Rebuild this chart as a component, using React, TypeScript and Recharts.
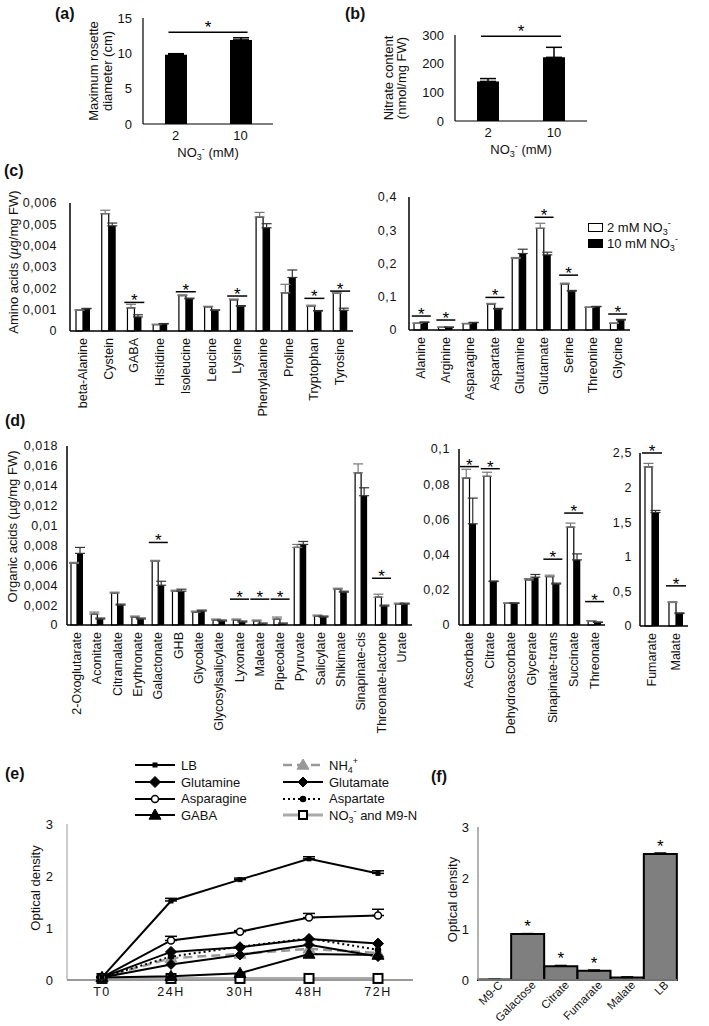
import React from 'react';
import {
  BarChart, Bar, ComposedChart, LineChart, Line, Scatter, XAxis, YAxis,
  ErrorBar, ReferenceLine, LabelList, Legend, Label,
} from 'recharts';

const FONT = '"Liberation Sans", Arial, Helvetica, sans-serif';

// (a) rosette diameter and (b) nitrate content, by NO3- supply (mM)
const doses = ['2', '10'];
const rosetteDiameter = [9.8, 11.9];
const rosetteErr = [0.15, 0.3];
const nitrateContent = [138, 222];
const nitrateErr = [10, 35];

// (c) amino acids, minor ones
const aminoMinor = ['beta-Alanine', 'Cystein', 'GABA', 'Histidine', 'Isoleucine', 'Leucine', 'Lysine', 'Phenylalanine', 'Proline', 'Tryptophan', 'Tyrosine'];
const aminoMinor2mM = [0.00097, 0.0055, 0.00108, 0.0003, 0.00166, 0.00113, 0.00146, 0.00534, 0.00179, 0.00116, 0.00176];
const aminoMinor10mM = [0.00104, 0.00493, 0.00066, 0.00033, 0.00151, 0.00097, 0.00116, 0.00484, 0.00251, 0.00094, 0.00097];
const aminoMinor2mMErr = [0.00003, 0.00016, 0.00017, 0.00002, 0.00004, 0.00003, 0.00004, 0.00022, 0.0004, 0.00005, 0.00006];
const aminoMinor10mMErr = [0.00002, 0.00013, 0.0001, 0.00002, 0.00003, 0.00002, 0.00003, 0.00019, 0.00035, 0.00002, 0.0001];
const aminoMinorSig = [null, null, 0.00134, null, 0.00184, null, 0.00164, null, null, 0.00153, 0.00187];

// (c) amino acids, major ones
const aminoMajor = ['Alanine', 'Arginine', 'Asparagine', 'Aspartate', 'Glutamine', 'Glutamate', 'Serine', 'Threonine', 'Glycine'];
const aminoMajor2mM = [0.02, 0.008, 0.019, 0.078, 0.215, 0.306, 0.138, 0.068, 0.02];
const aminoMajor10mM = [0.023, 0.008, 0.022, 0.063, 0.23, 0.226, 0.117, 0.07, 0.03];
const aminoMajor2mMErr = [0.001, 0.001, 0.001, 0.002, 0.003, 0.015, 0.003, 0.001, 0.001];
const aminoMajor10mMErr = [0.001, 0.001, 0.001, 0.002, 0.013, 0.008, 0.002, 0.001, 0.002];
const aminoMajorSig = [0.042, 0.03, null, 0.098, null, 0.339, 0.165, null, 0.048];

// (d) organic acids, three scales
const organicMinor = ['2-Oxoglutarate', 'Aconitate', 'Citramalate', 'Erythronate', 'Galactonate', 'GHB', 'Glycolate', 'Glycosylsalicylate', 'Lyxonate', 'Maleate', 'Pipecolate', 'Pyruvate', 'Salicylate', 'Shikimate', 'Sinapinate-cis', 'Threonate-lactone', 'Urate'];
const organicMinor2mM = [0.0062, 0.0011, 0.0032, 0.0008, 0.0064, 0.0034, 0.0013, 0.0005, 0.0005, 0.0004, 0.0006, 0.0078, 0.0009, 0.0036, 0.0153, 0.0028, 0.0021];
const organicMinor10mM = [0.0072, 0.0006, 0.002, 0.0006, 0.004, 0.0034, 0.0014, 0.0004, 0.0003, 0.0001, 0.0001, 0.0081, 0.0008, 0.0033, 0.013, 0.0019, 0.0021];
const organicMinor2mMErr = [0.0001, 0.0002, 0.0001, 0.0001, 0.0001, 0.0001, 0.0001, 0.0001, 0.0001, 0.0001, 0.0002, 0.0003, 0.0001, 0.0001, 0.0009, 0.0003, 0.0001];
const organicMinor10mMErr = [0.0006, 0.0001, 0.0001, 0.0001, 0.0004, 0.0002, 0.0001, 0.0001, 0.0001, 0.0001, 0.0001, 0.0003, 0.0001, 0.0001, 0.0008, 0.0001, 0.0001];
const organicMinorSig = [null, null, null, null, 0.0083, null, null, null, 0.0026, 0.0026, 0.0026, null, null, null, null, 0.0047, null];

const organicMid = ['Ascorbate', 'Citrate', 'Dehydroascorbate', 'Glycerate', 'Sinapinate-trans', 'Succinate', 'Threonate'];
const organicMid2mM = [0.0835, 0.0845, 0.0123, 0.0256, 0.0275, 0.0556, 0.0023];
const organicMid10mM = [0.0575, 0.0247, 0.0123, 0.0272, 0.0233, 0.037, 0.0015];
const organicMid2mMErr = [0.005, 0.0023, 0.0003, 0.0008, 0.0008, 0.0023, 0.0002];
const organicMid10mMErr = [0.0146, 0.0003, 0.0003, 0.0015, 0.0005, 0.0034, 0.0002];
const organicMidSig = [0.09, 0.0888, null, null, 0.0374, 0.0636, 0.0133];

const organicMajor = ['Fumarate', 'Malate'];
const organicMajor2mM = [2.3, 0.34];
const organicMajor10mM = [1.64, 0.18];
const organicMajor2mMErr = [0.05, 0.01];
const organicMajor10mMErr = [0.03, 0.01];
const organicMajorSig = [2.5, 0.58];

// (e) bacterial growth on N sources
const times = ['T0', '24H', '30H', '48H', '72H'];
const growthLB = [0.05, 1.52, 1.93, 2.33, 2.05];
const growthLBErr = [0, 0.05, 0.03, 0.04, 0.05];
const growthGlutamine = [0.05, 0.54, 0.63, 0.79, 0.7];
const growthAsparagine = [0.05, 0.76, 0.93, 1.2, 1.24];
const growthAsparagineErr = [0, 0.08, 0.02, 0.08, 0.12];
const growthGABA = [0.05, 0.07, 0.13, 0.5, 0.48];
const growthNH4 = [0.05, 0.42, 0.5, 0.6, 0.52];
const growthGlutamate = [0.05, 0.3, 0.48, 0.68, 0.45];
const growthAspartate = [0.05, 0.45, 0.64, 0.8, 0.58];
const growthNO3 = [0.03, 0.03, 0.03, 0.03, 0.03];

// (f) growth on C sources
const carbonSources = ['M9-C', 'Galactose', 'Citrate', 'Fumarate', 'Malate', 'LB'];
const carbonOD = [0.01, 0.9, 0.27, 0.18, 0.05, 2.47];
const carbonErr = [0, 0.01, 0.015, 0.015, 0.01, 0.02];
const carbonStar = ['', '*', '*', '*', '', '*'];

const doseRows = (v: number[], e: number[]) => doses.map((d, i) => ({ dose: d, value: v[i], err: [0, e[i]] }));
const pairRows = (names: string[], a: number[], b: number[], ea: number[], eb: number[], sig: (number | null)[]) =>
  names.map((name, i) => ({ name, low: a[i], high: b[i], lowErr: [0, ea[i]], highErr: [0, eb[i]], sig: sig[i] }));

const growthRows = times.map((t, i) => ({
  t,
  LB: growthLB[i], LBErr: [0, growthLBErr[i]],
  Glutamine: growthGlutamine[i],
  Asparagine: growthAsparagine[i], AsparagineErr: [0, growthAsparagineErr[i]],
  GABA: growthGABA[i], NH4: growthNH4[i], Glutamate: growthGlutamate[i],
  Aspartate: growthAspartate[i], NO3: growthNO3[i],
}));
const carbonRows = carbonSources.map((name, i) => ({ name, od: carbonOD[i], err: [0, carbonErr[i]], star: carbonStar[i] }));

const comma = (v: number) => (v === 0 ? '0' : String(+v.toPrecision(6)).replace('.', ','));

const Place = ({ x, y, children }: any) => (
  <div style={{ position: 'absolute', left: x, top: y }}>{children}</div>
);

const PanelTag = ({ x, y, children }: any) => (
  <div style={{ position: 'absolute', left: x, top: y, fontWeight: 'bold', fontSize: 16, lineHeight: '16px' }}>{children}</div>
);

const RotTitle = ({ viewBox, x, dy = 0, lines, gap = 14 }: any) => {
  const cy = viewBox.y + viewBox.height / 2 + dy;
  return (
    <text transform={`translate(${viewBox.x + x},${cy}) rotate(-90)`} textAnchor="middle" dominantBaseline="central" fontSize={13} fill="#111">
      {lines.map((l: any, i: number) => (
        <tspan key={i} x={0} dy={i === 0 ? 0 : gap}>{l}</tspan>
      ))}
    </text>
  );
};

const NitrateTitle = ({ viewBox, dy }: any) => (
  <text x={viewBox.x + viewBox.width / 2} y={viewBox.y + dy} textAnchor="middle" fontSize={13} fill="#111">
    NO<tspan fontSize={9} dy={3}>3</tspan><tspan fontSize={9} dy={-8}>-</tspan><tspan dy={5}> (mM)</tspan>
  </text>
);

const VTick = ({ x, y, payload }: any) => (
  <text x={x} y={y + 7} transform={`rotate(-90, ${x}, ${y + 7})`} textAnchor="end" dominantBaseline="central" fontSize={12.5} fill="#111">
    {payload.value}
  </text>
);

const SlantTick = ({ x, y, payload }: any) => (
  <text x={x + 6} y={y + 3} transform={`rotate(-45, ${x + 6}, ${y + 3})`} textAnchor="end" dominantBaseline="central" fontSize={11.5} fill="#111">
    {payload.value}
  </text>
);

const SigMark = ({ cx, cy, half }: any) => {
  if (!Number.isFinite(cx) || !Number.isFinite(cy)) return <g />;
  return (
    <g>
      <line x1={cx - half} x2={cx + half} y1={cy} y2={cy} stroke="#000" strokeWidth={1.5} />
      <text x={cx} y={cy + 4} textAnchor="middle" fontSize={17} fill="#000">*</text>
    </g>
  );
};

const SpanSig = ({ x1, x2, y1 }: any) => (
  <g>
    <line x1={x1 - 7} x2={x2 + 7} y1={y1} y2={y1} stroke="#000" strokeWidth={1.5} />
    <text x={(x1 + x2) / 2} y={y1 + 1} textAnchor="middle" fontSize={17} fill="#000">*</text>
  </g>
);

const axisBlack = { stroke: '#000', strokeWidth: 1.5 };
const yTickStyle = { fontSize: 12.5, fill: '#111', letterSpacing: 0.6 };

const DoseChart = ({ data, width, margin, yWidth, domain, ticks, tickMargin, title, titleX, titleGap, sigY }: any) => (
  <BarChart width={width} height={165} data={data} margin={margin} barSize={22}>
    <XAxis dataKey="dose" tickLine={false} tickSize={0} tickMargin={7} axisLine={{ stroke: '#000', strokeWidth: 1.2 }} tick={{ fontSize: 13, fill: '#111' }} height={30}>
      <Label content={(p: any) => <NitrateTitle viewBox={p.viewBox} dy={33} />} />
    </XAxis>
    <YAxis width={yWidth} domain={domain} ticks={ticks} interval={0} tickLine={false} tickSize={0} tickMargin={tickMargin} axisLine={{ stroke: '#000', strokeWidth: 1.2 }} tick={{ fontSize: 13, fill: '#111' }}>
      <Label content={(p: any) => <RotTitle viewBox={p.viewBox} x={titleX} lines={title} gap={titleGap} />} />
    </YAxis>
    <Bar dataKey="value" fill="#000" isAnimationActive={false}>
      <ErrorBar dataKey="err" width={8} stroke="#000" strokeWidth={1.5} />
    </Bar>
    <ReferenceLine segment={[{ x: '2', y: sigY }, { x: '10', y: sigY }]} ifOverflow="visible" shape={(p: any) => <SpanSig {...p} />} />
  </BarChart>
);

const PairChart = ({ data, width, height, margin, yWidth, domain, ticks, tickMargin, barSize, half, xHeight, title, legend }: any) => (
  <ComposedChart width={width} height={height} data={data} margin={margin} barGap={0} barSize={barSize}>
    <XAxis dataKey="name" interval={0} tickLine={false} tickSize={0} tickMargin={0} axisLine={axisBlack} tick={<VTick />} height={xHeight} />
    <YAxis width={yWidth} domain={domain} ticks={ticks} interval={0} tickLine={false} tickSize={0} tickMargin={tickMargin} axisLine={axisBlack} tick={yTickStyle} tickFormatter={comma}>
      {title}
    </YAxis>
    <Bar dataKey="low" fill="#fff" stroke="#000" strokeWidth={1.2} isAnimationActive={false}>
      <ErrorBar dataKey="lowErr" width={5} stroke="#777" strokeWidth={1.2} />
    </Bar>
    <Bar dataKey="high" fill="#000" isAnimationActive={false}>
      <ErrorBar dataKey="highErr" width={5} stroke="#333" strokeWidth={1.2} />
    </Bar>
    <Scatter dataKey="sig" isAnimationActive={false} shape={(p: any) => <SigMark cx={p.cx} cy={p.cy} half={half} />} />
    {legend}
  </ComposedChart>
);

const Sub = ({ children }: any) => <span style={{ fontSize: 9, verticalAlign: -3 }}>{children}</span>;
const Sup = ({ children }: any) => <span style={{ fontSize: 9, verticalAlign: 6 }}>{children}</span>;

const doseLegend = [
  { label: '2 mM', fill: '#fff' },
  { label: '10 mM', fill: '#000' },
];

const DoseLegend = () => (
  <div style={{ fontSize: 13, color: '#111' }}>
    {doseLegend.map((d) => (
      <div key={d.label} style={{ display: 'flex', alignItems: 'center', height: 16 }}>
        <div style={{ width: 13, height: 7, background: d.fill, border: '1.5px solid #000', marginRight: 4 }} />
        <span>{d.label} NO<Sub>3</Sub><Sup>-</Sup></span>
      </div>
    ))}
  </div>
);

// line styles for panel (e), drawing order first to last
const growthStyles = [
  { key: 'NO3', label: <>NO<Sub>3</Sub><Sup>-</Sup> and M9-N</>, stroke: '#aaa', width: 3, dash: undefined, kind: 'square', size: 9, fill: '#fff', mStroke: '#000' },
  { key: 'NH4', label: <>NH<Sub>4</Sub><Sup>+</Sup></>, stroke: '#999', width: 2.5, dash: '9 5', kind: 'triangle', size: 6, fill: '#999', mStroke: '#999' },
  { key: 'GABA', label: 'GABA', stroke: '#000', width: 2, dash: undefined, kind: 'triangle', size: 6, fill: '#000', mStroke: '#000' },
  { key: 'Glutamate', label: 'Glutamate', stroke: '#000', width: 2, dash: undefined, kind: 'diamond', size: 5, fill: '#000', mStroke: '#000' },
  { key: 'Aspartate', label: 'Aspartate', stroke: '#000', width: 2, dash: '2 3', kind: 'circle', size: 2.5, fill: '#000', mStroke: '#000' },
  { key: 'Glutamine', label: 'Glutamine', stroke: '#000', width: 2, dash: undefined, kind: 'diamond', size: 5.5, fill: '#000', mStroke: '#000' },
  { key: 'Asparagine', label: 'Asparagine', stroke: '#000', width: 2, dash: undefined, kind: 'circle', size: 3.5, fill: '#fff', mStroke: '#000' },
  { key: 'LB', label: 'LB', stroke: '#000', width: 2, dash: undefined, kind: 'square', size: 5, fill: '#000', mStroke: '#000' },
];
const growthLegendOrder = ['LB', 'NH4', 'Glutamine', 'Glutamate', 'Asparagine', 'Aspartate', 'GABA', 'NO3'];

const Marker = ({ cx, cy, kind, size, fill, stroke }: any) => {
  if (!Number.isFinite(cx) || !Number.isFinite(cy)) return <g />;
  const s = size;
  if (kind === 'square') return <rect x={cx - s / 2} y={cy - s / 2} width={s} height={s} fill={fill} stroke={stroke} strokeWidth={s > 6 ? 2 : 0} />;
  if (kind === 'diamond') return <polygon points={`${cx},${cy - s} ${cx + s},${cy} ${cx},${cy + s} ${cx - s},${cy}`} fill={fill} stroke={stroke} />;
  if (kind === 'triangle') return <polygon points={`${cx},${cy - s} ${cx + s},${cy + s * 0.7} ${cx - s},${cy + s * 0.7}`} fill={fill} stroke={stroke} />;
  return <circle cx={cx} cy={cy} r={s} fill={fill} stroke={stroke} strokeWidth={1.5} />;
};

const GrowthLegend = () => (
  <div style={{ display: 'grid', gridTemplateColumns: '148px 140px', fontSize: 13, color: '#111' }}>
    {growthLegendOrder.map((k) => {
      const s: any = growthStyles.find((g) => g.key === k);
      return (
        <div key={k} style={{ display: 'flex', alignItems: 'center', height: 16.7 }}>
          <svg width={40} height={14} style={{ flex: 'none' }}>
            <line x1={0} x2={40} y1={7} y2={7} stroke={s.stroke} strokeWidth={s.width} strokeDasharray={s.dash} />
            <Marker cx={20} cy={7} kind={s.kind} size={s.kind === 'square' && s.size > 6 ? 8 : s.size} fill={s.fill} stroke={s.mStroke} />
          </svg>
          <span style={{ marginLeft: 6, whiteSpace: 'nowrap' }}>{s.label}</span>
        </div>
      );
    })}
  </div>
);

const aminoTitle = (
  <Label content={(p: any) => (
    <RotTitle viewBox={p.viewBox} x={13} dy={-5} lines={[<>Amino acids (<tspan fontStyle="italic">µ</tspan>g/mg FW)</>]} />
  )} />
);
const organicTitle = (
  <Label content={(p: any) => (
    <RotTitle viewBox={p.viewBox} x={12} dy={-9} lines={['Organic acids (µg/mg FW)']} />
  )} />
);

export default function App() {
  return (
    <div style={{ position: 'absolute', left: 0, top: 0, width: 709, height: 1026, background: '#fff', fontFamily: FONT, color: '#111', overflow: 'hidden' }}>
      <PanelTag x={55} y={6}>(a)</PanelTag>
      <PanelTag x={345} y={6}>(b)</PanelTag>
      <PanelTag x={4} y={163}>(c)</PanelTag>
      <PanelTag x={5} y={413}>(d)</PanelTag>
      <PanelTag x={5} y={766}>(e)</PanelTag>
      <PanelTag x={431} y={769}>(f)</PanelTag>

      <Place x={60} y={0}>
        <DoseChart data={doseRows(rosetteDiameter, rosetteErr)} width={230} margin={{ top: 18, right: 17, bottom: 11, left: 0 }}
          yWidth={83} domain={[0, 15]} ticks={[0, 5, 10, 15]} tickMargin={11}
          title={['Maximum rosette', 'diameter (cm)']} titleX={33} titleGap={14} sigY={13} />
      </Place>
      <Place x={360} y={0}>
        <DoseChart data={doseRows(nitrateContent, nitrateErr)} width={240} margin={{ top: 35, right: 13, bottom: 14, left: 0 }}
          yWidth={95} domain={[0, 300]} ticks={[0, 100, 200, 300]} tickMargin={11}
          title={['Nitrate content', '(nmol/mg FW)']} titleX={28} titleGap={13} sigY={296} />
      </Place>

      <Place x={0} y={150}>
        <PairChart data={pairRows(aminoMinor, aminoMinor2mM, aminoMinor10mM, aminoMinor2mMErr, aminoMinor10mMErr, aminoMinorSig)}
          width={360} height={290} margin={{ top: 53, right: 7, bottom: 9, left: 0 }} yWidth={70}
          domain={[0, 0.006]} ticks={[0, 0.001, 0.002, 0.003, 0.004, 0.005, 0.006]} tickMargin={13}
          barSize={7} half={10} xHeight={100} title={aminoTitle} />
      </Place>
      <Place x={355} y={150}>
        <PairChart data={pairRows(aminoMajor, aminoMajor2mM, aminoMajor10mM, aminoMajor2mMErr, aminoMajor10mMErr, aminoMajorSig)}
          width={354} height={290} margin={{ top: 47, right: 79, bottom: 10, left: 0 }} yWidth={54}
          domain={[0, 0.4]} ticks={[0, 0.1, 0.2, 0.3, 0.4]} tickMargin={12}
          barSize={7} half={9.5} xHeight={100}
          legend={<Legend layout="vertical" align="center" verticalAlign="middle" wrapperStyle={{ top: 69, left: 233, width: 110 }} content={() => <DoseLegend />} />} />
      </Place>

      <Place x={0} y={400}>
        <PairChart data={pairRows(organicMinor, organicMinor2mM, organicMinor10mM, organicMinor2mMErr, organicMinor10mMErr, organicMinorSig)}
          width={415} height={340} margin={{ top: 46, right: 3, bottom: 5, left: 0 }} yWidth={67}
          domain={[0, 0.018]} ticks={[0, 0.002, 0.004, 0.006, 0.008, 0.01, 0.012, 0.014, 0.016, 0.018]} tickMargin={9}
          barSize={6} half={9.5} xHeight={110} title={organicTitle} />
      </Place>
      <Place x={405} y={400}>
        <PairChart data={pairRows(organicMid, organicMid2mM, organicMid10mM, organicMid2mMErr, organicMid10mMErr, organicMidSig)}
          width={205} height={340} margin={{ top: 49, right: 5, bottom: 5, left: 0 }} yWidth={54}
          domain={[0, 0.1]} ticks={[0, 0.02, 0.04, 0.06, 0.08, 0.1]} tickMargin={9}
          barSize={6.5} half={9.5} xHeight={110} />
      </Place>
      <Place x={610} y={400}>
        <PairChart data={pairRows(organicMajor, organicMajor2mM, organicMajor10mM, organicMajor2mMErr, organicMajor10mMErr, organicMajorSig)}
          width={99} height={340} margin={{ top: 53, right: 21, bottom: 4, left: 0 }} yWidth={30}
          domain={[0, 2.5]} ticks={[0, 0.5, 1, 1.5, 2, 2.5]} tickMargin={8}
          barSize={7} half={10} xHeight={110} />
      </Place>

      <Place x={0} y={745}>
        <LineChart width={430} height={281} data={growthRows} margin={{ top: 79, right: 17, bottom: 16, left: 0 }}>
          <XAxis dataKey="t" padding={{ left: 35, right: 35 }} tickLine={false} tickSize={0} tickMargin={7}
            axisLine={{ stroke: '#999', strokeWidth: 2 }} tick={{ fontSize: 12.5, fill: '#111', letterSpacing: 1.5 }} height={30} />
          <YAxis width={67} domain={[0, 3]} ticks={[0, 1, 2, 3]} interval={0} tickLine={false} tickSize={0} tickMargin={14}
            axisLine={{ stroke: '#999', strokeWidth: 1 }} tick={{ fontSize: 13, fill: '#111' }}>
            <Label content={(p: any) => <RotTitle viewBox={p.viewBox} x={35} dy={-14} lines={['Optical density']} />} />
          </YAxis>
          <Legend layout="vertical" align="center" verticalAlign="middle" wrapperStyle={{ top: 12, left: 135, width: 290 }} content={() => <GrowthLegend />} />
          {growthStyles.map((s) => (
            <Line key={s.key} dataKey={s.key} stroke={s.stroke} strokeWidth={s.width} strokeDasharray={s.dash}
              isAnimationActive={false}
              dot={(p: any) => <Marker key={`${s.key}-${p.index}`} cx={p.cx} cy={p.cy} kind={s.kind} size={s.size} fill={s.fill} stroke={s.mStroke} />}>
              {s.key === 'LB' && <ErrorBar dataKey="LBErr" width={6} stroke="#000" strokeWidth={1.5} />}
              {s.key === 'Asparagine' && <ErrorBar dataKey="AsparagineErr" width={6} stroke="#000" strokeWidth={1.5} />}
            </Line>
          ))}
        </LineChart>
      </Place>

      <Place x={430} y={760}>
        <BarChart width={279} height={266} data={carbonRows} margin={{ top: 67, right: 32, bottom: 6, left: 0 }} barCategoryGap={0}>
          <XAxis dataKey="name" interval={0} tickLine={false} tickSize={0} tickMargin={0} axisLine={{ stroke: '#999', strokeWidth: 1.5 }} tick={<SlantTick />} height={40} />
          <YAxis width={48} domain={[0, 3]} ticks={[0, 1, 2, 3]} interval={0} tickLine={false} tickSize={0} tickMargin={9}
            axisLine={{ stroke: '#999', strokeWidth: 1.5 }} tick={{ fontSize: 13, fill: '#111' }}>
            <Label content={(p: any) => <RotTitle viewBox={p.viewBox} x={22} dy={-4} lines={['Optical density']} />} />
          </YAxis>
          <Bar dataKey="od" fill="#7f7f7f" stroke="#000" strokeWidth={2} isAnimationActive={false}>
            <ErrorBar dataKey="err" width={6} stroke="#000" strokeWidth={1.5} />
            <LabelList dataKey="star" position="top" offset={2} fontSize={17} fill="#000" />
          </Bar>
        </BarChart>
      </Place>
    </div>
  );
}
